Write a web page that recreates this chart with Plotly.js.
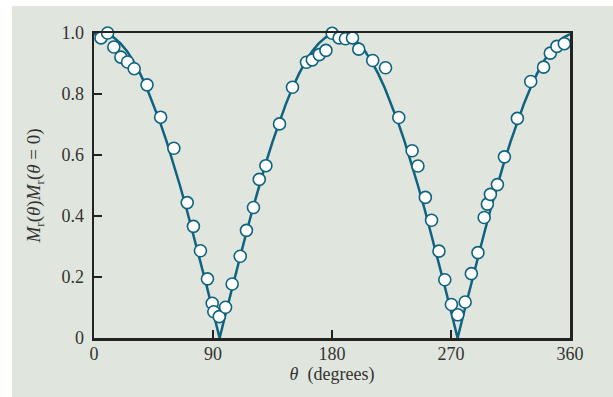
<!DOCTYPE html>
<html>
<head>
<meta charset="utf-8">
<script src="https://cdn.plot.ly/plotly-3.0.1.min.js"></script>
<style>
  html, body { margin: 0; padding: 0; background: #ffffff; }
  #wrap { position: relative; width: 613px; height: 397px; overflow: hidden; }
  #panel { position: absolute; left: 12px; top: 6px; width: 601px; height: 391px; background: #e0e6dd; }
  #chart { position: absolute; left: 0; top: 0; width: 613px; height: 397px; }
</style>
</head>
<body>
<div id="wrap"><div id="panel"></div><div id="chart"></div></div>
<script>
// Fitted curve
const curveTheta = [0,5,10,15,20,25,30,35,40,45,50,55,60,65,70,75,80,85,90,95,
  100,105,110,115,120,125,130,135,140,145,150,155,160,165,170,175,180,185,
  190,195,200,205,210,215,220,225,230,235,240,245,250,255,260,265,270,275,
  280,285,290,295,300,305,310,315,320,325,330,335,340,345,350,355,360];
const curveValue = [0.996,1.000,0.996,0.985,0.966,0.940,0.906,0.866,0.819,0.766,0.707,0.643,0.574,0.500,0.423,0.342,0.259,0.174,0.087,0.000,
  0.087,0.174,0.259,0.342,0.423,0.500,0.574,0.643,0.707,0.766,0.819,0.866,0.906,0.940,0.966,0.985,0.996,1.000,
  0.996,0.985,0.966,0.940,0.906,0.866,0.819,0.766,0.707,0.643,0.574,0.500,0.423,0.342,0.259,0.174,0.087,0.000,
  0.087,0.174,0.259,0.342,0.423,0.500,0.574,0.643,0.707,0.766,0.819,0.866,0.906,0.940,0.966,0.985,0.996];

// Measured points
const dataTheta = [5.3,10.3,15.0,20.3,25.4,30.4,40.1,50.4,60.4,70.5,75.2,80.5,85.8,89.4,90.6,94.7,99.5,104.5,
  110.6,115.3,120.6,125.0,130.0,140.3,150.1,160.7,165.1,170.4,175.4,180.1,185.4,190.2,195.5,200.2,210.8,220.5,
  230.5,240.6,245.0,250.6,255.3,260.9,265.3,270.3,275.1,280.7,285.4,290.4,295.1,297.5,299.8,305.1,310.4,
  320.2,330.3,340.0,345.1,350.1,355.7,360.5];
const dataValue = [0.984,1.000,0.954,0.921,0.905,0.883,0.830,0.724,0.622,0.444,0.366,0.286,0.194,0.114,0.086,0.070,0.101,0.177,
  0.268,0.353,0.428,0.520,0.565,0.702,0.822,0.904,0.912,0.929,0.943,0.999,0.984,0.981,0.984,0.947,0.910,0.886,
  0.723,0.614,0.564,0.461,0.386,0.285,0.191,0.110,0.076,0.118,0.211,0.280,0.395,0.439,0.471,0.503,0.594,
  0.720,0.841,0.888,0.934,0.956,0.965,0.984];

const xTicks = [0, 90, 180, 270, 360];
const yTicks = [0, 0.2, 0.4, 0.6, 0.8, 1.0];
const yTickText = ["0", "0.2", "0.4", "0.6", "0.8", "1.0"];

const teal = "#0f6380";
const serif = "Liberation Serif";

const traces = [
  { x: curveTheta, y: curveValue, type: "scatter", mode: "lines",
    line: { color: teal, width: 2.5 }, hoverinfo: "skip", cliponaxis: false },
  { x: dataTheta, y: dataValue, type: "scatter", mode: "markers",
    marker: { size: 12, color: "#ffffff", line: { color: teal, width: 1.6 } },
    cliponaxis: false }
];

const axisCommon = {
  showline: true, mirror: true, linecolor: "#222222", linewidth: 2.5,
  ticks: "inside", ticklen: 8, tickwidth: 2, tickcolor: "#222222",
  showgrid: false, zeroline: false,
  tickfont: { family: serif, size: 18, color: "#333333" }
};

const layout = {
  width: 613, height: 397,
  font: { family: serif },
  paper_bgcolor: "rgba(0,0,0,0)", plot_bgcolor: "rgba(0,0,0,0)",
  margin: { l: 94, r: 43, t: 33, b: 59 },
  showlegend: false,
  xaxis: Object.assign({}, axisCommon, {
    range: [0, 360], tickvals: xTicks, ticktext: xTicks.map(String),
    ticklabelstandoff: -2,
    title: { text: "<i>θ</i>  (degrees)", font: { family: serif, size: 18, color: "#333333" }, standoff: 4 }
  }),
  yaxis: Object.assign({}, axisCommon, {
    range: [0, 1.0], tickvals: yTicks, ticktext: yTickText,
    ticklabelstandoff: 4,
    title: { text: "<i>M</i><sub>r</sub>(<i>θ</i>)<i>M</i><sub>r</sub>(<i>θ</i> = 0)", font: { family: serif, size: 19, color: "#333333" }, standoff: 16 }
  })
};

Plotly.newPlot("chart", traces, layout, { displayModeBar: false, staticPlot: true });
</script>
</body>
</html>
